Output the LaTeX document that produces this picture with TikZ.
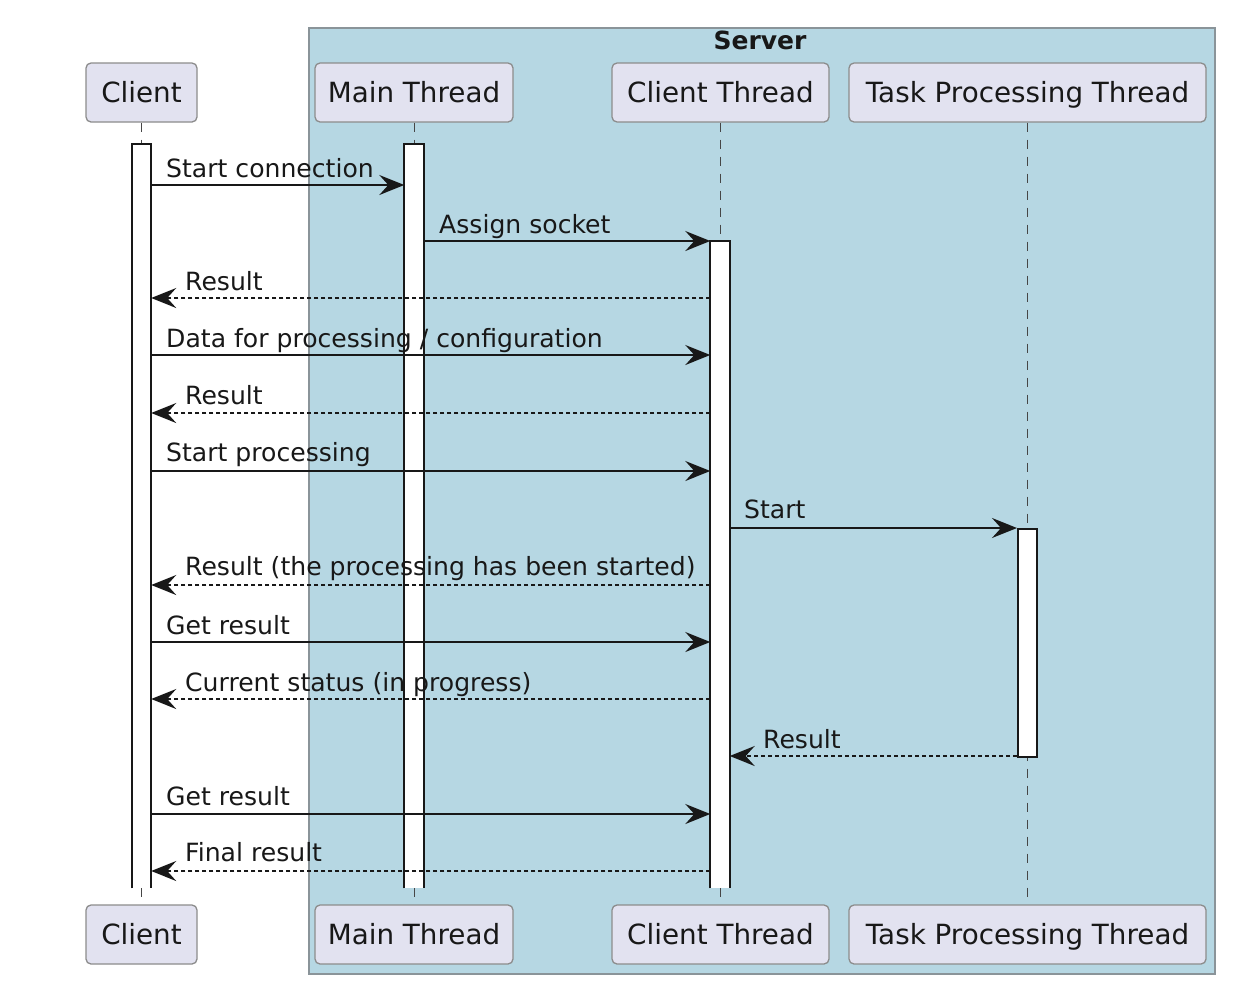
\documentclass[tikz,border=0pt]{standalone}
\usepackage{fontspec}
\setmainfont{DejaVu Sans}
\usetikzlibrary{arrows.meta,calc}
\definecolor{partfill}{HTML}{E2E2F0}
\definecolor{partdraw}{HTML}{8C8C8C}
\definecolor{srvfill}{HTML}{B6D7E3}
\definecolor{srvdraw}{HTML}{8A9499}
\definecolor{ink}{HTML}{181818}
\begin{document}
\begin{tikzpicture}[x=1pt,y=-1pt,
  participant/.style={draw=partdraw,fill=partfill,rounded corners=5pt,line width=1.3pt,
    minimum height=59pt,inner sep=0pt,text=ink,text height=21.5pt,text depth=2.5pt,
    font=\fontsize{27.8}{32}\selectfont},
  lifeline/.style={draw=ink!80,line width=1pt,dash pattern=on 9pt off 8pt},
  actbar/.style={fill=white,minimum width=19pt,inner sep=0pt,anchor=north},
  barline/.style={draw=ink,line width=2pt},
  msg/.style={draw=ink,line width=1.8pt,-{Stealth[length=25pt,width=20pt,inset=9pt]}},
  ret/.style={msg,dash pattern=on 4pt off 3pt},
  lbl/.style={anchor=base west,inner sep=0pt,text=ink,font=\fontsize{25.1}{30}\selectfont}
]
\useasboundingbox (0,0) rectangle (1250,994);
\fill[white] (0,0) rectangle (1250,994);
% Server box
\node[draw=srvdraw,fill=srvfill,line width=1.5pt,minimum width=906pt,minimum height=946pt,anchor=north west,inner sep=0pt] (srv) at (308,27) {};
\node[font=\bfseries\fontsize{25}{30}\selectfont,text=ink] (srvlbl) at (760,40) {Server};
% participants top
\node[participant,minimum width=111pt] (cT) at (141.5,92.5) {Client};
\node[participant,minimum width=198pt] (mT) at (414,92.5) {Main Thread};
\node[participant,minimum width=217pt] (ctT) at (720.5,92.5) {Client Thread};
\node[participant,minimum width=357pt] (tT) at (1027.5,92.5) {Task Processing Thread};
% participants bottom
\node[participant,minimum width=111pt] (cB) at (141.5,934.5) {Client};
\node[participant,minimum width=198pt] (mB) at (414,934.5) {Main Thread};
\node[participant,minimum width=217pt] (ctB) at (720.5,934.5) {Client Thread};
\node[participant,minimum width=357pt] (tB) at (1027.5,934.5) {Task Processing Thread};
% lifelines
\draw[lifeline] (cT.south) -- (cB.north);
\draw[lifeline] (mT.south) -- (mB.north);
\draw[lifeline] (ctT.south) -- (ctB.north);
\draw[lifeline] (tT.south) -- (tB.north);
% activation bars (open at the bottom where they run to the end)
\node[actbar,minimum height=744pt] (aC) at (141.5,144) {};
\draw[barline] (aC.south west) -- (aC.north west) -- (aC.north east) -- (aC.south east);
\node[actbar,minimum height=744pt] (aM) at (414,144) {};
\draw[barline] (aM.south west) -- (aM.north west) -- (aM.north east) -- (aM.south east);
\node[actbar,minimum height=647pt] (aCT) at (720,241) {};
\draw[barline] (aCT.south west) -- (aCT.north west) -- (aCT.north east) -- (aCT.south east);
\node[actbar,minimum height=228pt,draw=ink,line width=2pt] (aT) at (1027.5,528) {};
% messages
\draw[msg] (aC.east |- 0,185) -- (aM.west |- 0,185);
\node[lbl] (l1) at (166,177) {Start connection};
\draw[msg] (aM.east |- 0,241) -- (aCT.west |- 0,241);
\node[lbl] (l2) at (439,233) {Assign socket};
\draw[ret] (aCT.west |- 0,298) -- (aC.east |- 0,298);
\node[lbl] (l3) at (185,290) {Result};
\draw[msg] (aC.east |- 0,355) -- (aCT.west |- 0,355);
\node[lbl] (l4) at (166,347) {Data for processing / configuration};
\draw[ret] (aCT.west |- 0,413) -- (aC.east |- 0,413);
\node[lbl] (l5) at (185,404) {Result};
\draw[msg] (aC.east |- 0,471) -- (aCT.west |- 0,471);
\node[lbl] (l6) at (166,461) {Start processing};
\draw[msg] (aCT.east |- 0,528) -- (aT.west |- 0,528);
\node[lbl] (l7) at (744,518) {Start};
\draw[ret] (aCT.west |- 0,585) -- (aC.east |- 0,585);
\node[lbl] (l8) at (185,575) {Result (the processing has been started)};
\draw[msg] (aC.east |- 0,642) -- (aCT.west |- 0,642);
\node[lbl] (l9) at (166,634) {Get result};
\draw[ret] (aCT.west |- 0,699) -- (aC.east |- 0,699);
\node[lbl] (l10) at (185,691) {Current status (in progress)};
\draw[ret] (aT.west |- 0,756) -- (aCT.east |- 0,756);
\node[lbl] (l11) at (763,748) {Result};
\draw[msg] (aC.east |- 0,814) -- (aCT.west |- 0,814);
\node[lbl] (l12) at (166,805) {Get result};
\draw[ret] (aCT.west |- 0,871) -- (aC.east |- 0,871);
\node[lbl] (l13) at (185,861) {Final result};
\end{tikzpicture}
\end{document}
